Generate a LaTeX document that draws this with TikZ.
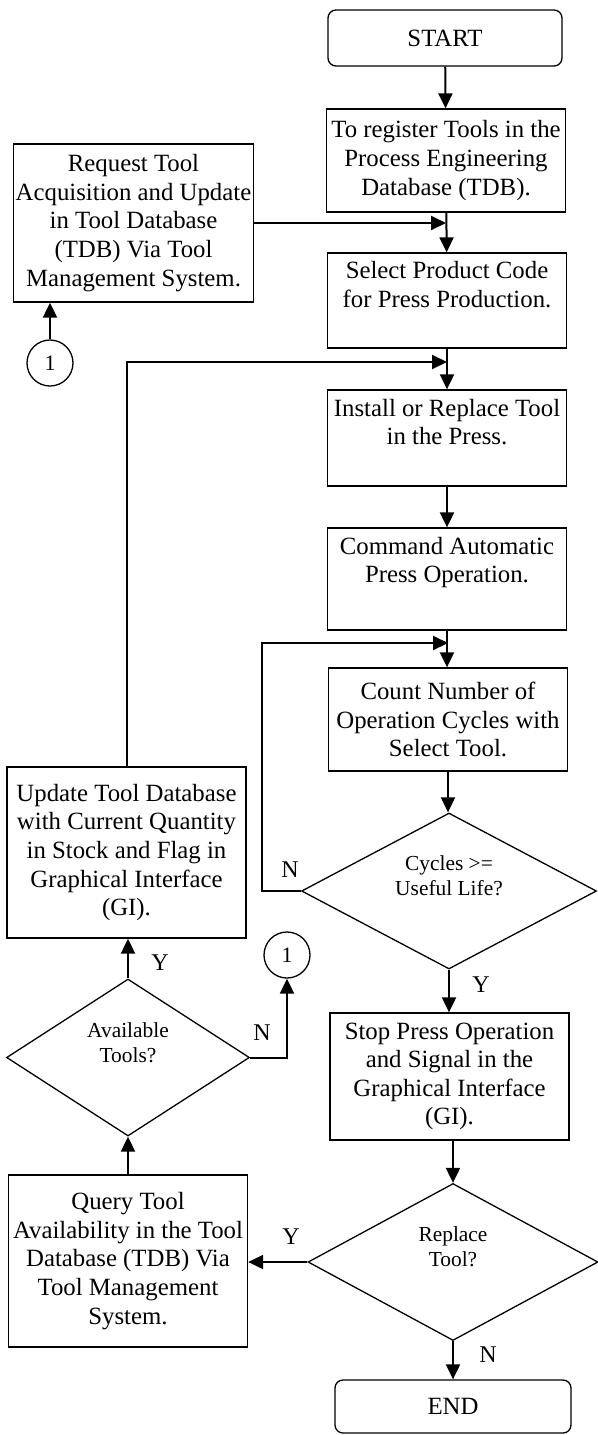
\documentclass[tikz,border=0pt]{standalone}
\usepackage{fontspec}
\setmainfont{Liberation Serif}
\usetikzlibrary{shapes.geometric,arrows.meta}

\tikzset{
  procbox/.style={draw, line width=0.65pt, align=center, inner sep=1pt,
    minimum width=119.5pt, font=\fontsize{12.4}{14.3}\selectfont},
  termbox/.style={procbox, rounded corners=4pt},
  decision/.style={draw, diamond, line width=0.65pt, align=center, inner sep=0pt,
    aspect=1.9, text depth=15pt, font=\fontsize{10.7}{12.5}\selectfont},
  connector/.style={draw, circle, line width=0.65pt, minimum size=23pt, inner sep=0pt,
    font=\fontsize{11}{13}\selectfont},
  flow/.style={line width=1pt, -{Triangle[length=7.5pt,width=7pt]}},
  yn/.style={font=\fontsize{12}{14}\selectfont}
}

\begin{document}
\begin{tikzpicture}[x=0.5pt, y=-0.5pt]
\useasboundingbox (0,0) rectangle (598,1435);

% main column
\node[termbox, minimum width=117pt, minimum height=28pt] (start) at (445,38) {START};
\node[procbox, minimum height=51.5pt] (reg) at (446,160.5) {To register Tools in the\\Process Engineering\\Database (TDB).};
\node[procbox, minimum height=47.5pt, text depth=16pt] (sel) at (447,300.5) {Select Product Code\\for Press Production.};
\node[procbox, minimum height=48pt, text depth=16pt] (inst) at (447,438) {Install or Replace Tool\\in the Press.};
\node[procbox, minimum height=51pt, text depth=19pt] (cmd) at (447,579) {Command Automatic\\Press Operation.};
\node[procbox, minimum height=51.5pt] (count) at (448,719.5) {Count Number of\\Operation Cycles with\\Select Tool.};
\node[decision, minimum width=147.5pt, minimum height=78pt] (cyc) at (449,891) {Cycles >=\\Useful Life?};
\node[procbox, minimum height=63.5pt] (stop) at (449.5,1076.5) {Stop Press Operation\\and Signal in the\\Graphical Interface\\(GI).};
\node[decision, minimum width=145pt, minimum height=78.5pt] (rep) at (453,1262) {Replace\\Tool?};
\node[termbox, minimum width=118pt, minimum height=26.5pt] (end) at (453,1406.5) {END};

% left column
\node[procbox, minimum height=79pt] (req) at (133.5,223) {Request Tool\\Acquisition and Update\\in Tool Database\\(TDB) Via Tool\\Management System.};
\node[procbox, minimum height=85.5pt] (upd) at (126.5,852.5) {Update Tool Database\\with Current Quantity\\in Stock and Flag in\\Graphical Interface\\(GI).};
\node[decision, minimum width=121.5pt, minimum height=78.5pt] (avail) at (128,1057.5) {Available\\Tools?};
\node[procbox, minimum height=86pt] (qry) at (128,1261) {Query Tool\\Availability in the Tool\\Database (TDB) Via\\Tool Management\\System.};
\node[connector] (c1a) at (50,363) {1};
\node[connector] (c1b) at (287,955) {1};

% junctions on the main column
\coordinate (j1) at (reg.south |- req.east);
\coordinate (j2) at (447,362);
\coordinate (j3) at (448,643);

\draw[flow] (start) -- (reg);
\draw[flow] (reg) -- (sel);
\draw[flow] (req.east) -- (j1);
\draw[flow] (c1a) -- (c1a |- req.south);
\draw[flow] (sel) -- (inst);
\draw[flow] (upd.north) |- (j2);
\draw[flow] (inst) -- (cmd);
\draw[flow] (cmd.south) -- (cmd.south |- count.north);
\draw[flow] (cyc.west) -- ++(-39,0) |- (j3);
\draw[flow] (count.south) -- (count.south |- cyc.north);
\draw[flow] (cyc.south) -- (stop.north -| cyc.south);
\draw[flow] (rep.north |- stop.south) -- (rep.north);
\draw[flow] (rep.south) -- (end.north);
\draw[flow] (rep.west) -- (qry.east |- rep.west);
\draw[flow] (qry) -- (avail.south);
\draw[flow] (avail.north) -- (avail.north |- upd.south);
\draw[flow] (avail.east) -| (c1b.south);

% branch labels
\node[yn] (ncyc) at (290,870) {N};
\node[yn] (ycyc) at (481,985) {Y};
\node[yn] (yavl) at (160,963) {Y};
\node[yn] (navl) at (262,1033) {N};
\node[yn] (yrep) at (291,1237) {Y};
\node[yn] (nrep) at (488,1355) {N};
\end{tikzpicture}
\end{document}
